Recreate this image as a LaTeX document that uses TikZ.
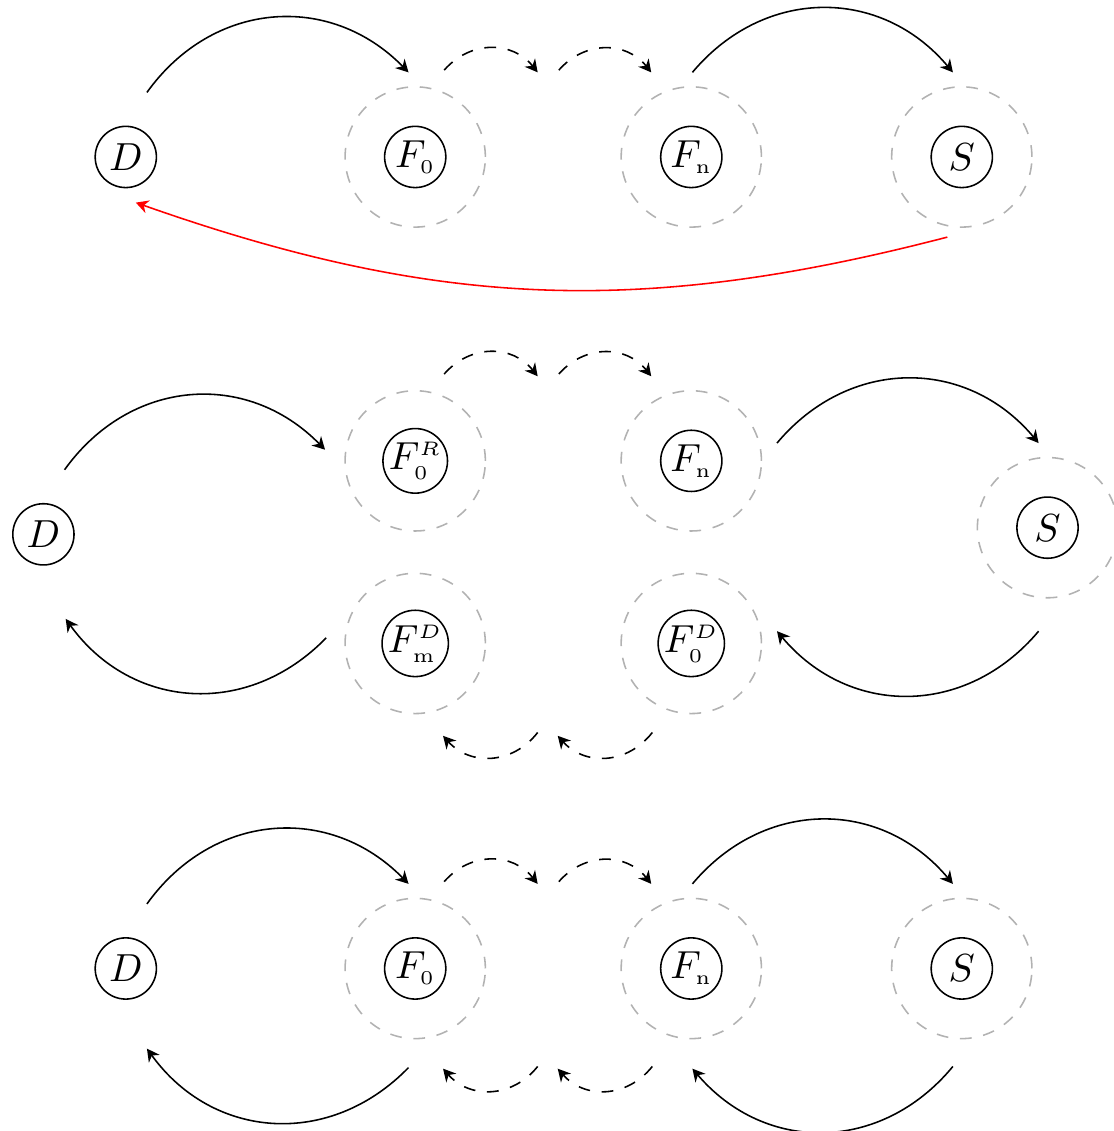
\documentclass[tikz,border=0pt]{standalone}
\usetikzlibrary{arrows.meta}
\newcommand{\tinyidx}[1]{{\scriptscriptstyle #1}}

\begin{document}
\begin{tikzpicture}[
        agent/.style={circle, draw, minimum size=0.55cm, inner sep=0pt},
        ring/.style={circle, draw=gray!60, dashed, minimum size=1.26cm, inner sep=0pt},
        hop/.style={-{Stealth[length=3.2pt, width=3.4pt]}, bend left=50, looseness=1.1},
        skip/.style={hop, dashed},
        back/.style={hop, red, bend left=17, looseness=1}]
        \useasboundingbox (0,0) rectangle (10,-10.16);
        % first row
        \node[agent] (D1)  at (1.13,-1.41) {$D$};
        \node[agent] (F01) at (3.73,-1.41) {$F_\tinyidx{0}$};
        \node[agent] (Fn1) at (6.21,-1.41) {$F_\tinyidx{\mathrm{n}}$};
        \node[agent] (S1)  at (8.64,-1.41) {$S$};
        % second row
        \node[agent] (D2)  at (0.39,-4.80) {$D$};
        \node[agent] (F0R) at (3.73,-4.14) {$F_\tinyidx{0}^\tinyidx{R}$};
        \node[agent] (Fn2) at (6.21,-4.14) {$F_\tinyidx{\mathrm{n}}$};
        \node[agent] (S2)  at (9.41,-4.74) {$S$};
        \node[agent] (FmD) at (3.73,-5.78) {$F_\tinyidx{\mathrm{m}}^\tinyidx{D}$};
        \node[agent] (F0D) at (6.21,-5.78) {$F_\tinyidx{0}^\tinyidx{D}$};
        % third row
        \node[agent] (D3)  at (1.13,-8.70) {$D$};
        \node[agent] (F03) at (3.73,-8.70) {$F_\tinyidx{0}$};
        \node[agent] (Fn3) at (6.21,-8.70) {$F_\tinyidx{\mathrm{n}}$};
        \node[agent] (S3)  at (8.64,-8.70) {$S$};
        \foreach \n in {F01,Fn1,S1,F0R,Fn2,S2,FmD,F0D,F03,Fn3,S3}
          \node[ring] (\n-r) at (\n) {};

        % forward hops
        \foreach \r in {1,3} {
          \draw[hop] ([shift={(0.19,0.58)}]D\r.center) to ([shift={(-0.06,0.76)}]F0\r.center);
          \draw[hop] ([shift={(0.01,0.76)}]Fn\r.center) to ([shift={(-0.08,0.76)}]S\r.center);
        }
        \draw[hop] ([shift={(0.19,0.58)}]D2.center) to ([shift={(-0.81,0.10)}]F0R.center);
        \draw[hop] ([shift={(0.77,0.16)}]Fn2.center) to ([shift={(-0.08,0.76)}]S2.center);
        \foreach \a/\b in {F01/Fn1, F0R/Fn2, F03/Fn3} {
          \draw[skip] ([shift={(0.26,0.78)}]\a.center) to ([shift={(1.10,0.76)}]\a.center);
          \draw[skip] ([shift={(-1.19,0.78)}]\b.center) to ([shift={(-0.36,0.76)}]\b.center);
        }

        % way back
        \draw[back] ([shift={(-0.13,-0.72)}]S1.center) to ([shift={(0.09,-0.41)}]D1.center);
        \draw[hop] ([shift={(-0.08,-0.93)}]S2.center) to ([shift={(0.77,0.11)}]F0D.center);
        \draw[hop] ([shift={(-0.80,0.05)}]FmD.center) to ([shift={(0.20,-0.76)}]D2.center);
        \draw[skip] ([shift={(-0.35,-0.80)}]F0D.center) to ([shift={(-1.20,-0.83)}]F0D.center);
        \draw[skip] ([shift={(1.10,-0.80)}]FmD.center) to ([shift={(0.25,-0.83)}]FmD.center);
        \draw[hop] ([shift={(-0.08,-0.88)}]S3.center) to ([shift={(0.01,-0.90)}]Fn3.center);
        \draw[hop] ([shift={(-0.06,-0.89)}]F03.center) to ([shift={(0.19,-0.72)}]D3.center);
        \draw[skip] ([shift={(-0.35,-0.88)}]Fn3.center) to ([shift={(-1.20,-0.90)}]Fn3.center);
        \draw[skip] ([shift={(1.10,-0.88)}]F03.center) to ([shift={(0.25,-0.90)}]F03.center);
      \end{tikzpicture}
\end{document}
